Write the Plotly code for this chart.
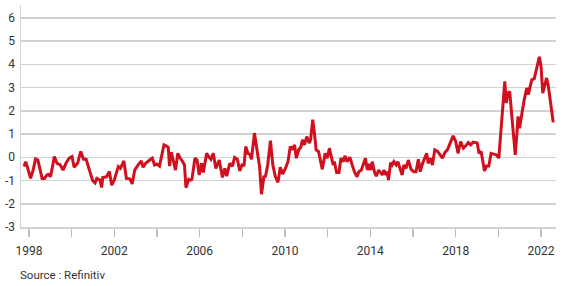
import plotly.graph_objects as go

# Time (decimal years) and values
years = [
    1997.77, 1997.85, 1997.92, 1998.08, 1998.20, 1998.31, 1998.42, 1998.54, 1998.62, 1998.73,
    1998.85, 1998.93, 1999.01, 1999.09, 1999.19, 1999.32, 1999.47, 1999.60, 1999.75, 1999.89,
    2000.02, 2000.12, 2000.28, 2000.43, 2000.56, 2000.68, 2000.84, 2000.99, 2001.10, 2001.18,
    2001.33, 2001.41, 2001.46, 2001.64, 2001.77, 2001.88, 2002.00, 2002.19, 2002.29, 2002.45,
    2002.57, 2002.73, 2002.84, 2002.96, 2003.12, 2003.27, 2003.35, 2003.47, 2003.66, 2003.78,
    2003.89, 2004.00, 2004.12, 2004.25, 2004.33, 2004.43, 2004.53, 2004.59, 2004.67, 2004.74,
    2004.87, 2004.98, 2005.09, 2005.21, 2005.29, 2005.36, 2005.49, 2005.57, 2005.64, 2005.78,
    2005.88, 2005.98, 2006.09, 2006.17, 2006.33, 2006.42, 2006.53, 2006.64, 2006.76, 2006.92,
    2007.07, 2007.18, 2007.27, 2007.41, 2007.54, 2007.64, 2007.77, 2007.88, 2008.00, 2008.08,
    2008.16, 2008.26, 2008.34, 2008.43, 2008.57, 2008.70, 2008.81, 2008.90, 2009.01, 2009.09,
    2009.19, 2009.32, 2009.43, 2009.55, 2009.67, 2009.78, 2009.89, 2010.02, 2010.14, 2010.25,
    2010.33, 2010.45, 2010.53, 2010.64, 2010.74, 2010.82, 2010.91, 2011.02, 2011.13, 2011.20,
    2011.30, 2011.38, 2011.46, 2011.57, 2011.64, 2011.75, 2011.88, 2011.98, 2012.08, 2012.19,
    2012.26, 2012.31, 2012.42, 2012.53, 2012.62, 2012.73, 2012.81, 2012.91, 2013.04, 2013.15,
    2013.27, 2013.38, 2013.46, 2013.58, 2013.69, 2013.77, 2013.86, 2013.94, 2014.02, 2014.09,
    2014.20, 2014.28, 2014.39, 2014.48, 2014.56, 2014.64, 2014.71, 2014.79, 2014.85, 2014.95,
    2015.02, 2015.10, 2015.21, 2015.29, 2015.40, 2015.49, 2015.57, 2015.67, 2015.78, 2015.91,
    2016.03, 2016.14, 2016.25, 2016.34, 2016.45, 2016.56, 2016.64, 2016.71, 2016.81, 2016.91,
    2017.02, 2017.15, 2017.27, 2017.38, 2017.49, 2017.61, 2017.74, 2017.88, 2018.00, 2018.11,
    2018.23, 2018.36, 2018.47, 2018.59, 2018.70, 2018.82, 2019.01, 2019.09, 2019.19, 2019.35,
    2019.44, 2019.55, 2019.66, 2019.78, 2019.91, 2020.02, 2020.30, 2020.37, 2020.45, 2020.53,
    2020.64, 2020.71, 2020.79, 2020.87, 2020.92, 2020.99, 2021.10, 2021.21, 2021.33, 2021.41,
    2021.49, 2021.57, 2021.68, 2021.80, 2021.92, 2022.00, 2022.08, 2022.14, 2022.26, 2022.34,
    2022.45, 2022.57,
]
values = [
    -0.40, -0.19, -0.40, -0.91, -0.55, -0.07, -0.12, -0.55, -0.91, -0.91,
    -0.76, -0.74, -0.84, -0.48, 0.03, -0.26, -0.33, -0.55, -0.23, -0.04,
    0.03, -0.43, -0.26, 0.25, -0.09, -0.09, -0.55, -1.01, -1.10, -0.91,
    -0.98, -1.30, -0.87, -0.84, -0.61, -1.20, -0.98, -0.40, -0.48, -0.16,
    -0.91, -0.93, -1.15, -0.55, -0.33, -0.16, -0.43, -0.26, -0.12, -0.04,
    -0.33, -0.29, -0.38, 0.10, 0.53, 0.49, 0.43, -0.38, 0.22, -0.04,
    -0.55, 0.17, -0.04, -0.19, -0.33, -1.31, -0.95, -0.98, -0.95, -0.04,
    -0.12, -0.76, -0.26, -0.66, 0.17, 0.03, -0.09, 0.17, -0.48, -0.12,
    -0.87, -0.48, -0.81, -0.26, -0.38, -0.01, -0.09, -0.59, -0.29, -0.38,
    0.46, 0.17, 0.14, -0.09, 1.04, 0.25, -0.40, -1.59, -0.84, -0.81,
    -0.33, 0.71, -0.33, -0.84, -1.08, -0.43, -0.72, -0.48, -0.19, 0.46,
    0.32, 0.53, -0.04, 0.32, 0.43, 0.75, 0.53, 0.89, 0.61, 0.75,
    1.62, 1.04, 0.32, 0.25, -0.04, -0.52, 0.17, -0.04, 0.39, -0.12,
    -0.33, -0.19, -0.66, -0.66, -0.04, -0.19, 0.06, -0.19, 0.00, -0.33,
    -0.66, -0.84, -0.62, -0.55, -0.29, -0.04, -0.55, -0.29, -0.55, -0.19,
    -0.66, -0.81, -0.55, -0.66, -0.76, -0.55, -0.76, -0.62, -0.98, -0.23,
    -0.33, -0.19, -0.33, -0.19, -0.55, -0.76, -0.33, -0.48, -0.12, -0.52,
    -0.62, -0.62, -0.09, -0.62, -0.26, 0.03, 0.17, -0.26, -0.04, -0.33,
    0.32, 0.25, 0.10, -0.04, 0.20, 0.32, 0.61, 0.92, 0.68, 0.17,
    0.68, 0.39, 0.49, 0.63, 0.53, 0.65, 0.61, 0.17, 0.25, -0.59,
    -0.38, -0.38, 0.17, 0.14, 0.10, -0.04, 3.27, 2.33, 2.76, 2.83,
    1.60, 0.75, 0.10, 1.04, 1.76, 1.25, 1.90, 2.47, 2.98, 2.70,
    3.05, 3.34, 3.37, 3.84, 4.32, 3.91, 2.76, 2.98, 3.41, 3.06,
    2.37, 1.50,
]

x_tick_vals = [1998, 2000, 2002, 2004, 2006, 2008, 2010, 2012, 2014, 2016, 2018, 2020, 2022]
x_tick_text = ["1998", "", "2002", "", "2006", "", "2010", "", "2014", "", "2018", "", "2022"]
y_tick_vals = [-3, -2, -1, 0, 1, 2, 3, 4, 5, 6]
y_tick_text = ["-3", "-2", "-1", "0", "1", "2", "3", "4", "5", "6"]
source_text = "Source : Refinitiv"

GRID = "#d2d2d2"
RED = "#d0101e"
TXT = "#333333"

fig = go.Figure()
fig.add_trace(go.Scatter(
    x=years, y=values, mode="lines",
    line=dict(color=RED, width=3),
    hoverinfo="skip", showlegend=False,
))

fig.update_layout(
    width=570, height=286,
    margin=dict(l=17, r=14, t=5, b=59),
    paper_bgcolor="white", plot_bgcolor="white",
    font=dict(family="Roboto, Open Sans, sans-serif", size=12, color=TXT),
    xaxis=dict(
        range=[1997.63, 2022.70],
        tickmode="array", tickvals=x_tick_vals, ticktext=x_tick_text,
        ticks="outside", ticklen=8, tickwidth=1.5, tickcolor="#bdbdbd",
        showgrid=False, zeroline=False,
        showline=True, linecolor=GRID, linewidth=1.5,
        tickfont=dict(size=12, color=TXT),
        ticklabelstandoff=4,
    ),
    yaxis=dict(
        range=[-3, 6.55],
        tickmode="array", tickvals=y_tick_vals, ticktext=y_tick_text,
        ticks="", showgrid=True, gridcolor=GRID, gridwidth=1.5,
        zeroline=False, showline=True, linecolor=GRID, linewidth=1.5,
        tickfont=dict(size=12, color=TXT),
        ticklabelstandoff=2,
    ),
    annotations=[dict(
        text=source_text, xref="paper", yref="paper", x=0, y=0,
        xanchor="left", yanchor="middle", xshift=-3, yshift=-48,
        showarrow=False, font=dict(size=11.5, color=TXT),
    )],
)

fig.write_html(
    "out.html",
    config={"displayModeBar": False, "staticPlot": True},
    post_script="document.body.style.margin='0';document.body.style.padding='0';",
)
